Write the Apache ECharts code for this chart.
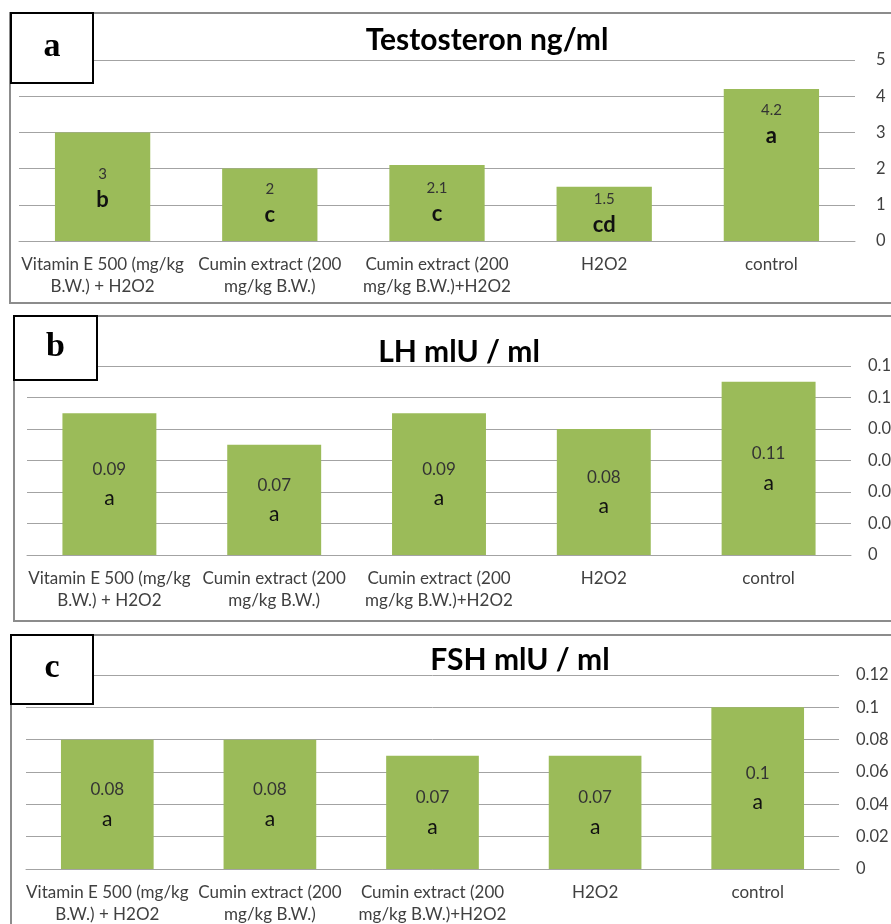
<!DOCTYPE html>
<html>
<head>
<meta charset="utf-8">
<script src="https://cdn.jsdelivr.net/npm/echarts@6/dist/echarts.min.js"></script>
<style>
html,body{margin:0;padding:0;background:#fff;}
#c{width:891px;height:924px;}
</style>
</head>
<body>
<div id="c"></div>
<script>
const categories = [
  "Vitamin E 500 (mg/kg\nB.W.) + H2O2",
  "Cumin extract (200\nmg/kg B.W.)",
  "Cumin extract (200\nmg/kg B.W.)+H2O2",
  "H2O2",
  "control"
];
const testosterone = [3, 2, 2.1, 1.5, 4.2];
const testosteroneLetters = ["b", "c", "c", "cd", "a"];
const lh = [0.09, 0.07, 0.09, 0.08, 0.11];
const lhLetters = ["a", "a", "a", "a", "a"];
const fsh = [0.08, 0.08, 0.07, 0.07, 0.1];
const fshLetters = ["a", "a", "a", "a", "a"];
const titles = ["Testosteron ng/ml", "LH mlU / ml", "FSH mlU / ml"];
const panelLetters = ["a", "b", "c"];
const yMax = [5, 0.12, 0.12];
const yInterval = [1, 0.02, 0.02];

// styling / layout (not data)
const FONT = "Lato, 'Open Sans', sans-serif";
const GREEN = "#9BBB59";
const GRIDC = "#a3a3a3";
const labelOffsetsA = [0, -3, -2, -2, -42];

const grids = [
  {left: 19, right: 36, top: 60, height: 181, containLabel: false, outerBoundsMode: "none"},
  {left: 27, right: 40, top: 366, height: 189, containLabel: false, outerBoundsMode: "none"},
  {left: 26, right: 52, top: 675, height: 194, containLabel: false, outerBoundsMode: "none"}
];
const yLabelMargin = [21, 17, 17];

const seriesData = [testosterone, lh, fsh];
const seriesLetters = [testosteroneLetters, lhLetters, fshLetters];

const xAxes = [], yAxes = [], series = [];
for (let i = 0; i < 3; i++) {
  xAxes.push({
    type: "category", gridIndex: i, data: categories,
    axisTick: {show: false},
    axisLine: {lineStyle: {color: GRIDC, width: 1}},
    axisLabel: {interval: 0, fontFamily: FONT, fontSize: 17, color: "#404040", lineHeight: 22, margin: 13}
  });
  yAxes.push({
    type: "value", gridIndex: i, position: "right", min: 0, max: yMax[i], interval: yInterval[i],
    axisLine: {show: false}, axisTick: {show: false},
    splitLine: {lineStyle: {color: GRIDC, width: 1}},
    axisLabel: {fontFamily: FONT, fontSize: 16.5, color: "#404040", margin: yLabelMargin[i]}
  });
  const vals = seriesData[i];
  const lets = seriesLetters[i];
  const boldLetter = i === 0;
  series.push({
    type: "bar", xAxisIndex: i, yAxisIndex: i, barWidth: "57%",
    itemStyle: {color: GREEN},
    data: vals.map((v, k) => ({
      value: v,
      label: {offset: [0, i === 0 ? labelOffsetsA[k] : 0]}
    })),
    label: {
      show: true, position: "inside",
      formatter: p => "{v|" + vals[p.dataIndex] + "}\n{l|" + lets[p.dataIndex] + "}",
      rich: {
        v: {fontFamily: FONT, fontSize: boldLetter ? 15 : 17, color: "#333", lineHeight: boldLetter ? 26 : 29},
        l: {fontFamily: FONT, fontSize: boldLetter ? 22 : 21, fontWeight: boldLetter ? "bold" : "normal", color: "#111", lineHeight: boldLetter ? 26 : 29}
      }
    }
  });
}

const panels = [
  {box: [10, 13, 1000, 290], lbox: [11, 13, 82, 70]},
  {box: [14, 316, 1000, 305], lbox: [14, 316, 83, 64]},
  {box: [11, 635, 1000, 320], lbox: [11, 635, 82, 69]}
];
const titlePos = [[487, 40], [459, 352], [520, 660]];

const graphic = [];
for (let i = 0; i < 3; i++) {
  const b = panels[i].box, lb = panels[i].lbox;
  graphic.push({type: "rect", z: 50, silent: true, shape: {x: b[0], y: b[1], width: b[2], height: b[3]},
    style: {fill: null, stroke: "#8c8c8c", lineWidth: 2}});
  graphic.push({type: "rect", z: 100, silent: true, shape: {x: lb[0], y: lb[1], width: lb[2], height: lb[3]},
    style: {fill: "#fff", stroke: "#000", lineWidth: 2}});
  graphic.push({type: "text", z: 101, silent: true, x: lb[0] + lb[2] / 2, y: lb[1] + lb[3] / 2 - 1,
    style: {text: panelLetters[i], fontFamily: "'Liberation Serif', 'DejaVu Serif', serif", fontWeight: "bold", fontSize: 34,
      fill: "#000", textAlign: "center", textVerticalAlign: "middle"}});
  graphic.push({type: "text", z: 101, silent: true, x: titlePos[i][0], y: titlePos[i][1],
    style: {text: titles[i], fontFamily: FONT, fontWeight: "bold", fontSize: 30,
      fill: "#000", textAlign: "center", textVerticalAlign: "middle"}});
}

const chart = echarts.init(document.getElementById("c"), null, {renderer: "canvas"});
chart.setOption({
  animation: false,
  backgroundColor: "#fff",
  grid: grids,
  xAxis: xAxes,
  yAxis: yAxes,
  series: series,
  graphic: graphic
});
</script>
</body>
</html>
